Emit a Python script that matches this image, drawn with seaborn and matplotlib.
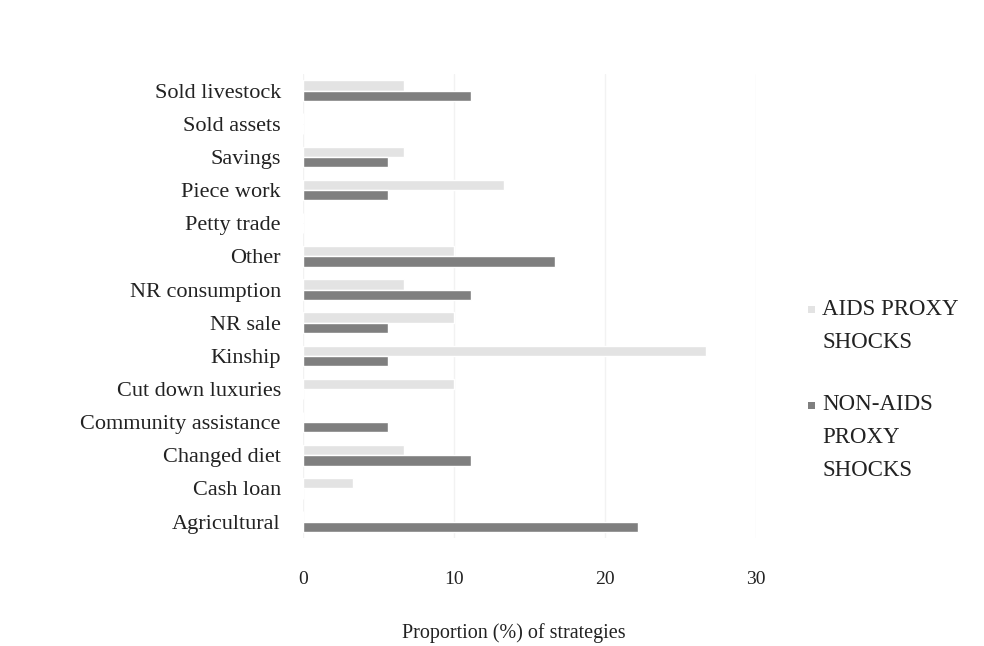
import matplotlib
matplotlib.use("Agg")
import matplotlib.pyplot as plt
import matplotlib.patches as mpatches
import seaborn as sns
import pandas as pd

categories = ["Sold livestock", "Sold assets", "Savings", "Piece work", "Petty trade",
              "Other", "NR consumption", "NR sale", "Kinship", "Cut down luxuries",
              "Community assistance", "Changed diet", "Cash loan", "Agricultural"]
aids_proxy = [6.7, 0, 6.7, 13.3, 0, 10.0, 6.7, 10.0, 26.7, 10.0, 0, 6.7, 3.3, 0]
non_aids_proxy = [11.1, 0, 5.6, 5.6, 0, 16.7, 11.1, 5.6, 5.6, 0, 5.6, 11.1, 0, 22.2]
series_names = ["AIDS PROXY\nSHOCKS", "NON-AIDS\nPROXY\nSHOCKS"]
series_colors = ["#e3e3e3", "#7f7f7f"]
x_ticks = [0, 10, 20, 30]

df = pd.DataFrame({
    "category": categories * 2,
    "value": aids_proxy + non_aids_proxy,
    "series": [series_names[0]] * len(categories) + [series_names[1]] * len(categories),
})

sns.set_theme(style="white")
plt.rcParams["font.family"] = ["Liberation Serif", "DejaVu Serif"]

fig = plt.figure(figsize=(9.84, 6.46), dpi=100)
ax = fig.add_axes([0.308, 0.167, 0.460, 0.7184])

sns.barplot(data=df, y="category", x="value", hue="series", orient="h",
            order=categories, hue_order=series_names,
            palette=series_colors, width=0.62, ax=ax, legend=False)

ax.set_xlim(0, 30)
ax.set_ylim(len(categories) - 0.5, -0.5)
ax.set_xticks(x_ticks)
ax.set_xticklabels([str(t) for t in x_ticks], fontsize=14, color="#222222")
ax.tick_params(axis="x", length=0, pad=24)
ax.tick_params(axis="y", length=0, pad=16, labelsize=16, labelcolor="#222222")
ax.set_ylabel("")
ax.set_xlabel("Proportion (%) of strategies", fontsize=14.5, color="#222222")
ax.xaxis.set_label_coords(0.465, -0.183)
ax.grid(axis="x", color="#f2f2f2", linewidth=1)
ax.set_axisbelow(True)
for s in ax.spines.values():
    s.set_visible(False)

# legend: square markers aligned with the first line of each label
legend_y = [1 - 310 / 646, 1 - 405 / 646]
for name, col, ly in zip(series_names, series_colors, legend_y):
    fig.patches.append(mpatches.Rectangle((808 / 984, ly - 3.5 / 646), 7 / 984, 7 / 646,
                                          transform=fig.transFigure, facecolor=col,
                                          edgecolor="none"))
    fig.text(822 / 984, ly + 11 / 646, name, ha="left", va="top", fontsize=16.5,
             linespacing=1.75, color="#222222")

fig.savefig("out.png", dpi=100, facecolor="white")
